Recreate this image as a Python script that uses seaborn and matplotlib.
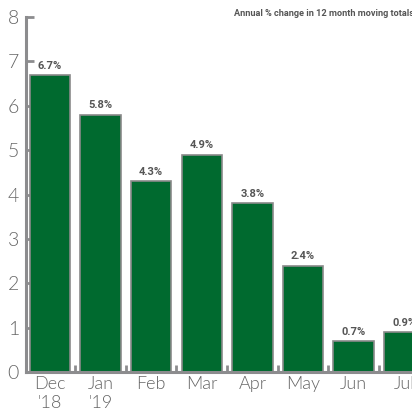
import matplotlib
matplotlib.use("Agg")
import matplotlib.pyplot as plt
from matplotlib.ticker import FixedLocator
import seaborn as sns
import pandas as pd

months = ["Dec\n'18", "Jan\n'19", "Feb", "Mar", "Apr", "May", "Jun", "Jul"]
change = [6.7, 5.8, 4.3, 4.9, 3.8, 2.4, 0.7, 0.9]
value_labels = ["6.7%", "5.8%", "4.3%", "4.9%", "3.8%", "2.4%", "0.7%", "0.9%"]
y_ticks = [0, 1, 2, 3, 4, 5, 6, 7, 8]

df = pd.DataFrame({"month": months, "change": change})

sns.set_style("white")
plt.rcParams["font.family"] = ["Lato", "DejaVu Sans"]

GREEN = "#006a2f"
AXIS = "#8c8c8e"
TEXT = "#666666"
LABEL = "#555555"

fig = plt.figure(figsize=(4.12, 4.13), dpi=100)
ax = fig.add_axes([26 / 412, 1 - 372 / 413, 1 - 26 / 412, (372 - 17) / 413])

sns.barplot(data=df, x="month", y="change", color=GREEN, width=0.8,
            edgecolor="#8a8a8a", linewidth=1.2, saturation=1, ax=ax)

for i, (v, t) in enumerate(zip(change, value_labels)):
    ax.annotate(t, (i, v), xytext=(0, 3), textcoords="offset points",
                ha="center", va="bottom", fontsize=8, fontweight="bold",
                color=LABEL, family=["Roboto", "DejaVu Sans"])

ax.set_ylim(0, 8)
ax.set_xlim(-0.47, 7.15)
ax.set_yticks(y_ticks)
ax.set_xlabel("")
ax.set_ylabel("")

for s in ["top", "right"]:
    ax.spines[s].set_visible(False)
for s in ["left", "bottom"]:
    ax.spines[s].set_color(AXIS)
    ax.spines[s].set_linewidth(2.2)

ax.tick_params(axis="y", left=True, direction="in", length=6, width=2,
               color=AXIS, labelsize=14, labelcolor=TEXT, pad=5)
ax.tick_params(axis="x", which="major", bottom=True, length=0, labelsize=13,
               labelcolor=TEXT, pad=3)
ax.xaxis.set_minor_locator(FixedLocator([i + 0.5 for i in range(len(months))]))
ax.tick_params(axis="x", which="minor", bottom=True, direction="in", length=5,
               width=2, color=AXIS)
for lbl in ax.get_yticklabels() + ax.get_xticklabels():
    lbl.set_fontweight(300)

fig.text(234 / 412, 1 - 14 / 413, "Annual % change in 12 month moving totals",
         ha="left", va="center", fontsize=6.6, fontweight="bold", color=LABEL,
         family=["Roboto", "DejaVu Sans"])

fig.savefig("out.png", dpi=100)
